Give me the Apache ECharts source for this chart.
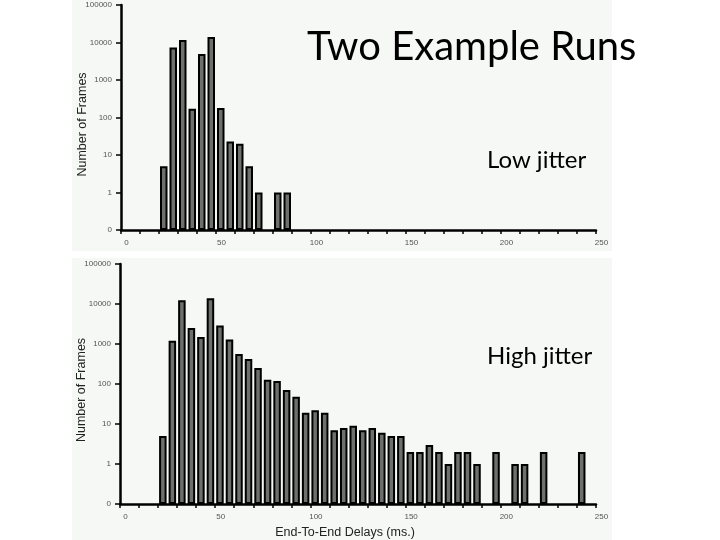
<!DOCTYPE html>
<html>
<head>
<meta charset="utf-8">
<script src="https://cdn.jsdelivr.net/npm/echarts@6/dist/echarts.min.js"></script>
<style>html,body{margin:0;padding:0;background:#fff}#c{width:720px;height:540px}</style>
</head>
<body>
<div id="c"></div>
<script>
// ---- data ----
const titleText = 'Two Example Runs';
const lowLabel = 'Low jitter';
const highLabel = 'High jitter';
const yAxisName = 'Number of Frames';
const xAxisName = 'End-To-End Delays (ms.)';
const binWidth = 5;
// bin start (ms) and frame counts, low jitter run
const lowBins   = [20, 25, 30, 35, 40, 45, 50, 55, 60, 65, 70, 80, 85];
const lowCounts = [5, 7400, 11600, 170, 4900, 14000, 180, 23, 20, 5, 1, 1, 1];
// bin start (ms) and frame counts, high jitter run
const highBins   = [20, 25, 30, 35, 40, 45, 50, 55, 60, 65, 70, 75, 80, 85, 90, 95, 100, 105, 110, 115, 120, 125, 130, 135, 140, 145, 150, 155, 160, 165, 170, 175, 180, 185, 195, 205, 210, 220, 240];
const highCounts = [5, 1200, 12400, 2500, 1500, 14000, 2900, 1300, 560, 420, 250, 128, 119, 71, 48, 19, 22, 19, 7, 8, 9, 7, 8, 6, 5, 5, 2, 2, 3, 2, 1, 2, 2, 1, 2, 1, 1, 2, 2];
// y tick labels (log scale with 0 one decade below 1)
const yTickLabels = ['0', '1', '10', '100', '1000', '10000', '100000'];
const xTickLabels = [0, 50, 100, 150, 200, 250];

// ---- build ----
function toLevel(c) { return c > 0 ? Math.log10(c) + 1 : 0; }
function mk(bins, counts) { return bins.map((b, i) => [b + binWidth / 2, toLevel(counts[i])]); }

const FONT = 'Liberation Sans, Arial, sans-serif';
const chart = echarts.init(document.getElementById('c'), null, {renderer: 'canvas'});

function xAxisCfg(gi, withName) {
  const cfg = {
    type: 'value', gridIndex: gi, min: 0, max: 250, interval: 10,
    axisLine: {onZero: false, lineStyle: {color: '#000', width: 2.5}},
    axisTick: {show: true, length: 4, lineStyle: {color: '#000', width: 1.5}},
    splitLine: {show: false},
    axisLabel: {
      fontFamily: FONT, fontSize: 8, color: '#555', margin: 9, padding: [0, 0, 0, 11],
      formatter: v => xTickLabels.indexOf(v) >= 0 ? String(v) : ''
    }
  };
  if (withName) {
    cfg.name = xAxisName; cfg.nameLocation = 'middle'; cfg.nameGap = 22; cfg.nameMoveOverlap = false;
    cfg.nameTextStyle = {fontFamily: FONT, fontSize: 12.5, color: '#222', padding: [0, 26, 0, 0]};
  }
  return cfg;
}
function yAxisCfg(gi, shift) {
  return {
    type: 'value', gridIndex: gi, min: 0, max: 6, interval: 1,
    name: yAxisName, nameLocation: 'middle', nameGap: 32, nameMoveOverlap: false,
    nameTextStyle: {fontFamily: FONT, fontSize: 12.5, color: '#222', padding: [0, shift, 0, 0]},
    axisLine: {show: true, lineStyle: {color: '#000', width: 2.5}},
    axisTick: {show: true, length: 5, lineStyle: {color: '#000', width: 1.5}},
    splitLine: {show: false},
    axisLabel: {fontFamily: FONT, fontSize: 8, color: '#555', margin: 9,
      formatter: v => yTickLabels[v] || ''}
  };
}
const barStyle = {color: '#6e706e', borderColor: '#000', borderWidth: 2};

chart.setOption({
  animation: false,
  backgroundColor: '#ffffff',
  graphic: [
    {type: 'rect', z: -10, shape: {x: 72, y: 0, width: 540, height: 251}, style: {fill: '#f5f8f5'}},
    {type: 'rect', z: -10, shape: {x: 72, y: 258, width: 540, height: 282}, style: {fill: '#f5f8f5'}}
  ],
  title: [
    {text: titleText, left: 302, top: 22, textStyle: {fontFamily: 'Lato', fontWeight: 'normal', fontSize: 40, color: '#000'}},
    {text: lowLabel, left: 482, top: 143, textStyle: {fontFamily: 'Lato', fontWeight: 'normal', fontSize: 24, color: '#000'}},
    {text: highLabel, left: 482, top: 339, textStyle: {fontFamily: 'Lato', fontWeight: 'normal', fontSize: 24, color: '#000'}}
  ],
  grid: [
    {left: 121, right: 124, top: 5, height: 225},
    {left: 120, right: 124, top: 264, height: 240}
  ],
  xAxis: [xAxisCfg(0, false), xAxisCfg(1, true)],
  yAxis: [yAxisCfg(0, 14), yAxisCfg(1, 12)],
  series: [
    {type: 'bar', xAxisIndex: 0, yAxisIndex: 0, barWidth: 7.5, data: mk(lowBins, lowCounts), itemStyle: barStyle},
    {type: 'bar', xAxisIndex: 1, yAxisIndex: 1, barWidth: 7.5, data: mk(highBins, highCounts), itemStyle: barStyle}
  ]
});
</script>
</body>
</html>
